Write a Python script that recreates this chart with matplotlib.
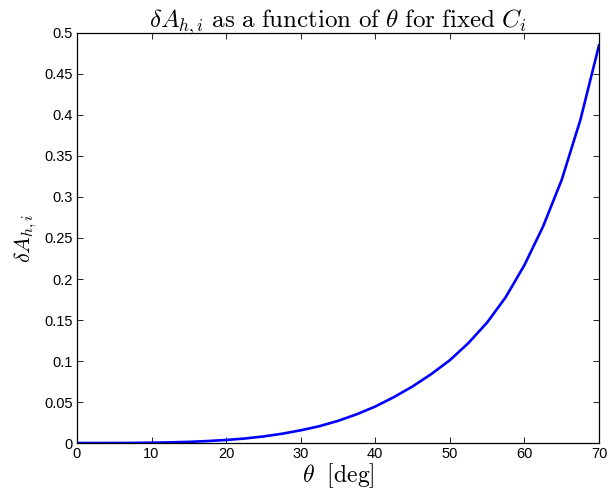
import matplotlib
matplotlib.use("Agg")
import matplotlib.pyplot as plt
from matplotlib.ticker import FuncFormatter

theta_deg = [0, 2.5, 5, 7.5, 10, 12.5, 15, 17.5, 20, 22.5, 25, 27.5, 30, 32.5, 35,
             37.5, 40, 42.5, 45, 47.5, 50, 52.5, 55, 57.5, 60, 62.5, 65, 67.5, 70]
delta_A = [0.0, 0.00001, 0.00005, 0.00015, 0.0004, 0.0008, 0.0014, 0.0024, 0.0037,
           0.0055, 0.0080, 0.0113, 0.0155, 0.0205, 0.0270, 0.0350, 0.0445, 0.0560,
           0.0690, 0.0840, 0.1010, 0.1220, 0.1470, 0.1780, 0.2170, 0.2640, 0.3210,
           0.3940, 0.4850]
x_ticks = [0, 10, 20, 30, 40, 50, 60, 70]
y_ticks = [0, 0.05, 0.1, 0.15, 0.2, 0.25, 0.3, 0.35, 0.4, 0.45, 0.5]

plt.rcParams['font.family'] = ['Liberation Sans', 'DejaVu Sans']
plt.rcParams['mathtext.fontset'] = 'cm'

fig = plt.figure(figsize=(6.09, 4.99), dpi=100)
ax = fig.add_axes([0.1264, 0.1122, 0.8572, 0.8217])
ax.plot(theta_deg, delta_A, color='#0000ff', linewidth=1.9)
ax.set_xlim(0, 70)
ax.set_ylim(0, 0.5)
ax.set_xticks(x_ticks)
ax.set_yticks(y_ticks)
ax.yaxis.set_major_formatter(FuncFormatter(lambda v, p: f"{v:g}"))
ax.tick_params(direction='in', top=True, right=True, length=4, width=0.6,
               labelsize=10.5, pad=3)
for s in ax.spines.values():
    s.set_linewidth(0.9)

ax.set_title(r"$\delta A_{h,i}\ \mathrm{as\ a\ function\ of}\ \theta\ \mathrm{for\ fixed}\ C_i$",
             fontsize=18, pad=4)
ax.set_xlabel(r"$\theta\ \ \mathrm{[deg]}$", fontsize=17, labelpad=0)
ax.set_ylabel(r"$\delta A_{h,i}$", fontsize=16, labelpad=4)

fig.savefig("out.png", dpi=100)
